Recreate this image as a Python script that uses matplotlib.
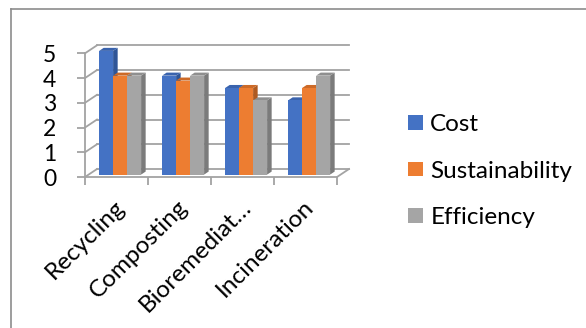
import matplotlib.pyplot as plt
from matplotlib.patches import Polygon, Patch
import matplotlib.transforms as mtransforms

categories = ['Recycling', 'Composting', 'Bioremediat…', 'Incineration']
series_names = ['Cost', 'Sustainability', 'Efficiency']
cost = [5, 4, 3.5, 3]
sustainability = [4, 3.8, 3.5, 3.5]
efficiency = [4, 4, 3, 4]
y_ticks = [0, 1, 2, 3, 4, 5]

# front, top, side shades for each series
shades = [('#4472C4', '#3A63AD', '#2F5597'),
          ('#ED7D31', '#CC6A28', '#AE5A21'),
          ('#A5A5A5', '#8F8F8F', '#7B7B7B')]
grid_color = '#A3A3A3'

plt.rcParams['font.family'] = ['Lato', 'DejaVu Sans']

W, H = 586, 328
fig = plt.figure(figsize=(W / 100, H / 100), dpi=100)

# front plane of the plot box, in pixels
left, right, floor, top = 85, 337, 177, 53.3
ax = fig.add_axes([left / W, 1 - floor / H, (right - left) / W, (floor - top) / H])
n = len(categories)
ymax = y_ticks[-1]
ax.set_xlim(0, n)
ax.set_ylim(0, ymax)

# depth of the box (pixels -> data units)
dx = 12 / ((right - left) / n)
dy = 8 / ((floor - top) / ymax)

# back wall gridlines and side wall lines
for v in y_ticks:
    ax.plot([dx, n + dx], [v + dy, v + dy], color=grid_color, lw=1.3, clip_on=False, zorder=1)
    ax.plot([0, dx], [v, v + dy], color=grid_color, lw=1.3, clip_on=False, zorder=1)
ax.plot([n, n + dx], [0, dy], color=grid_color, lw=1.3, clip_on=False, zorder=1)
ax.plot([0, n], [0, 0], color=grid_color, lw=1.3, clip_on=False, zorder=1)


def bar3d(x0, w, h, f0, f1, colors, z):
    front_c, top_c, side_c = colors
    ax0, ay0 = f0 * dx, f0 * dy
    ax1, ay1 = f1 * dx, f1 * dy
    xl, xr = x0 + ax0, x0 + w + ax0
    front = [(xl, ay0), (xr, ay0), (xr, h + ay0), (xl, h + ay0)]
    side = [(xr, ay0), (x0 + w + ax1, ay1), (x0 + w + ax1, h + ay1), (xr, h + ay0)]
    lid = [(xl, h + ay0), (xr, h + ay0), (x0 + w + ax1, h + ay1), (x0 + ax1, h + ay1)]
    for pts, c in ((side, side_c), (lid, top_c), (front, front_c)):
        ax.add_patch(Polygon(pts, closed=True, facecolor=c, edgecolor='none',
                             clip_on=False, zorder=z))


bar_w = 2 / 9
gap = (1 - 3 * bar_w) / 2
z = 3
for i in range(n):
    for j, vals in enumerate([cost, sustainability, efficiency]):
        bar3d(i + gap + j * bar_w, bar_w, vals[i], 0.3, 0.68, shades[j], z)
        z += 1

# axes, ticks and labels
for s in ['top', 'right', 'bottom']:
    ax.spines[s].set_visible(False)
ax.spines['left'].set_color(grid_color)
ax.spines['left'].set_linewidth(1.3)
ax.set_yticks(y_ticks)
ax.set_yticklabels([str(v) for v in y_ticks])
ax.tick_params(axis='y', length=5.8, width=1.3, color=grid_color, pad=15, labelsize=16.5)

ax.set_xticks(range(n + 1))
ax.set_xticklabels([])
ax.set_xticks([i + 0.5 for i in range(n)], minor=True)
ax.set_xticklabels(categories, minor=True, rotation=45, ha='right',
                   va='center', rotation_mode='anchor', fontsize=17.5)
ax.tick_params(axis='x', which='major', length=6, width=1.3, color=grid_color)
ax.tick_params(axis='x', which='minor', length=0, pad=19)
shift = mtransforms.ScaledTranslation(5 / 100, 0, fig.dpi_scale_trans)
for lab in ax.get_xticklabels(minor=True):
    lab.set_transform(lab.get_transform() + shift)

handles = [Patch(facecolor=shades[j][0], edgecolor='none') for j in range(3)]
fig.legend(handles, series_names, loc='center left', bbox_to_anchor=(408 / W, 1 - 171 / H),
           frameon=False, fontsize=17.5, handlelength=0.62, handleheight=0.55,
           handletextpad=0.3, labelspacing=1.05, borderpad=0, borderaxespad=0)

# chart border (cut off at right and bottom)
fig.add_artist(plt.Line2D([11 / W, 11 / W], [0, 1 - 8.5 / H], color='#8C8C8C', lw=1.2))
fig.add_artist(plt.Line2D([11 / W, 1], [1 - 8.5 / H, 1 - 8.5 / H], color='#8C8C8C', lw=1.2))

fig.savefig('out.png', dpi=100)
